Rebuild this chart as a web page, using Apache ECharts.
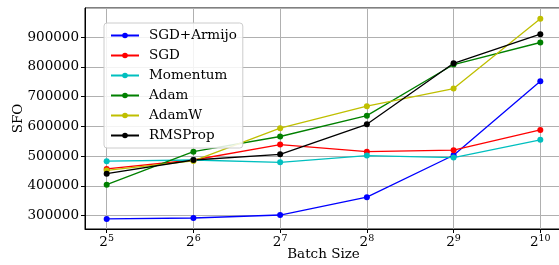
<!DOCTYPE html>
<html>
<head>
<meta charset="utf-8">
<script src="https://cdn.jsdelivr.net/npm/echarts@6/dist/echarts.min.js"></script>
<style>
  html, body { margin: 0; padding: 0; background: #fff; }
  #main { width: 559px; height: 265px; }
</style>
</head>
<body>
<div id="main"></div>
<script>
// batch size exponents (2^n)
var exponents = [5, 6, 7, 8, 9, 10];
var seriesNames = ['SGD+Armijo', 'SGD', 'Momentum', 'Adam', 'AdamW', 'RMSProp'];
var seriesColors = ['#0000ff', '#ff0000', '#00bfbf', '#008000', '#bfbf00', '#000000'];

var sgdArmijo = [289000, 292000, 302000, 362000, 503000, 752000];
var sgd       = [457000, 487000, 539000, 515000, 520000, 588000];
var momentum  = [483000, 487000, 479000, 502000, 495000, 555000];
var adam      = [404000, 515000, 566000, 636000, 808000, 882000];
var adamw     = [452000, 484000, 594000, 668000, 727000, 962000];
var rmsprop   = [441000, 487000, 506000, 607000, 812000, 910000];

var yTicks = [300000, 400000, 500000, 600000, 700000, 800000, 900000];

var allValues = [sgdArmijo, sgd, momentum, adam, adamw, rmsprop];

var chartDom = document.getElementById('main');
var myChart = echarts.init(chartDom);
var font = 'DejaVu Serif';

var series = seriesNames.map(function (name, i) {
  return {
    name: name,
    type: 'line',
    data: exponents.map(function (e, j) { return [e, allValues[i][j]]; }),
    symbol: 'circle',
    symbolSize: 6,
    showSymbol: true,
    itemStyle: { color: seriesColors[i] },
    lineStyle: { color: seriesColors[i], width: 1.3 },
    emphasis: { disabled: true },
    animation: false
  };
});

var option = {
  animation: false,
  grid: {
    left: 85, right: -3, top: 8, bottom: 36,
    outerBoundsMode: 'none',
    containLabel: false,
    show: true, borderColor: '#000', borderWidth: 1
  },
  legend: {
    orient: 'vertical',
    left: 104, top: 23,
    padding: [5, 6, 5, 6],
    itemWidth: 28, itemHeight: 7, itemGap: 5,
    backgroundColor: 'rgba(255,255,255,0.85)',
    borderColor: '#cccccc', borderWidth: 1, borderRadius: 3,
    textStyle: { fontFamily: font, fontSize: 13.5, color: '#000', padding: [0, 0, 0, 5], lineHeight: 15 },
    data: seriesNames
  },
  xAxis: {
    type: 'value',
    min: 4.75, max: 10.25,
    minInterval: 1, maxInterval: 1,
    name: 'Batch Size',
    nameLocation: 'middle',
    nameGap: 18,
    nameMoveOverlap: false,
    nameTextStyle: { fontFamily: font, fontSize: 13.5, color: '#000' },
    axisLine: { lineStyle: { color: '#000', width: 1 } },
    axisTick: { length: 4, lineStyle: { color: '#000' } },
    axisLabel: {
      showMinLabel: false, showMaxLabel: false,
      margin: 5,
      formatter: function (v) {
        if (Math.abs(v - Math.round(v)) > 1e-6) return '';
        return '{b|2}{s|' + Math.round(v) + '}';
      },
      rich: {
        b: { fontFamily: font, fontSize: 13.5, color: '#000', lineHeight: 16 },
        s: { fontFamily: font, fontSize: 9.5, color: '#000', verticalAlign: 'top', lineHeight: 10 }
      }
    },
    splitLine: { show: true, lineStyle: { color: '#b0b0b0', width: 1 } }
  },
  yAxis: {
    type: 'value',
    min: 255000, max: 998000,
    minInterval: 100000, maxInterval: 100000,
    name: 'SFO',
    nameLocation: 'middle',
    nameGap: 60,
    nameMoveOverlap: false,
    nameTextStyle: { fontFamily: font, fontSize: 13.5, color: '#000' },
    axisLine: { show: true, lineStyle: { color: '#000', width: 1 } },
    axisTick: { show: true, length: 4, lineStyle: { color: '#000' } },
    axisLabel: {
      showMinLabel: false, showMaxLabel: false,
      margin: 6,
      fontFamily: font, fontSize: 13.5, color: '#000',
      formatter: function (v) { return yTicks.indexOf(v) >= 0 ? String(v) : ''; }
    },
    splitLine: { show: true, lineStyle: { color: '#b0b0b0', width: 1 } }
  },
  series: series
};

option && myChart.setOption(option);
</script>
</body>
</html>
